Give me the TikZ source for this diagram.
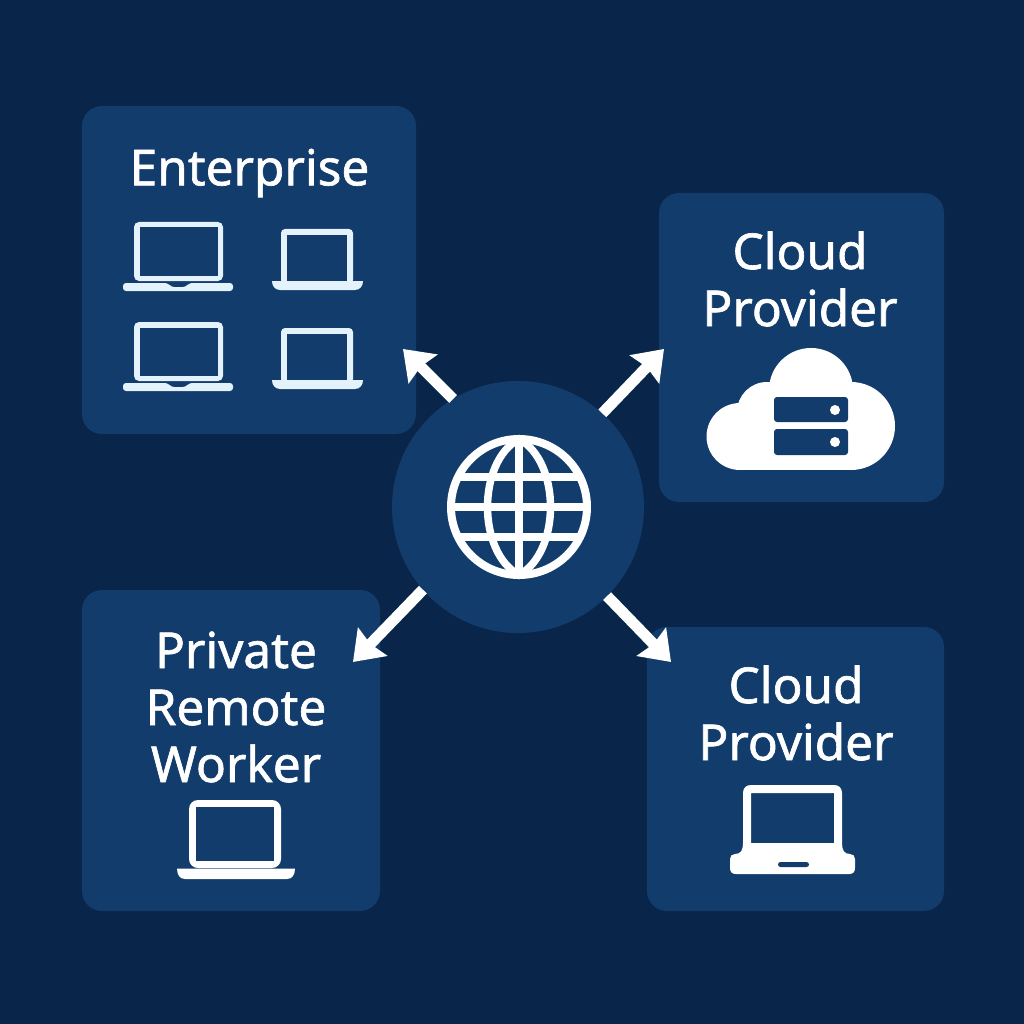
\documentclass[tikz,border=0pt]{standalone}
\usepackage{fontspec}
\setmainfont[RawFeature={embolden=1.3}]{Noto Sans}
\usetikzlibrary{arrows.meta}
\definecolor{bgc}{HTML}{09264A}
\definecolor{boxc}{HTML}{113C6C}
\definecolor{pale}{HTML}{E4F2FC}
\tikzset{
  panel/.style={fill=boxc,rounded corners=20pt,inner sep=0pt,outer sep=0pt},
  label/.style={text=white,font=\fontsize{49.5}{57}\selectfont,align=center,inner sep=0pt},
  link/.style={draw=white,line width=11pt,-{Stealth[length=28pt,width=40pt,inset=3pt]}},
  big/.pic={
    \fill[pale,rounded corners=5pt] (0,0) rectangle (89,59);
    \fill[boxc] (5.5,5.5) rectangle (83.5,53.5);
    \fill[pale,rounded corners=3pt] (-11,61) -- (34,61) -- (37,65) -- (52,65) -- (55,61) -- (99,61) -- (99,69) -- (-11,69) -- cycle;
  },
  small/.pic={
    \fill[pale,rounded corners=4pt] (0,55) -- (0,0) -- (72,0) -- (72,55) -- cycle;
    \fill[boxc] (6,6) rectangle (66,55);
    \fill[pale] (-9,52) -- (82,52) .. controls (82,57) and (79,61) .. (74,61) -- (-1,61) .. controls (-6,61) and (-9,57) .. (-9,52) -- cycle;
  }
}
\begin{document}
\begin{tikzpicture}[x=1pt,y=-1pt]
\fill[bgc] (0,0) rectangle (1024,1024);
\useasboundingbox (0,0) rectangle (1024,1024);

\node[panel,minimum width=334pt,minimum height=328pt] (ent) at (249,270) {};
\node[panel,minimum width=285pt,minimum height=309pt] (cloudA) at (801.5,347.5) {};
\node[panel,minimum width=298pt,minimum height=321pt] (priv) at (231,750.5) {};
\node[panel,minimum width=297pt,minimum height=284pt] (cloudB) at (795.5,769) {};

\node[label] (entT) at (249.5,173) {Enterprise};
\node[label] (cloudAT) at (800,279) {Cloud\\Provider};
\node[label] (privT) at (236,707) {Private\\Remote\\Worker};
\node[label] (cloudBT) at (796,713) {Cloud\\Provider};

% Enterprise laptops
\pic at (134,222) {big};
\pic at (134,322) {big};
\pic at (281,229) {small};
\pic at (281,328) {small};

% Cloud with server
\fill[white] (811,390) circle (42) (767,412) circle (30) (740,436.5) circle (33.5) (851,426) circle (44);
\fill[white] (740,405) rectangle (851,470);
\fill[boxc,rounded corners=3pt] (774,397) rectangle (848,422);
\fill[boxc,rounded corners=3pt] (774,429) rectangle (848,455);
\fill[white] (835,410) circle (5) (835,442) circle (5);

% Private worker laptop
\fill[white,rounded corners=9pt] (189,800) rectangle (281,868);
\fill[boxc] (196,807) rectangle (274,861);
\fill[white] (177,868.5) -- (295,868.5) .. controls (295,875) and (292,879) .. (287,879) -- (185,879) .. controls (180,879) and (177,875) .. (177,868.5) -- cycle;

% Second provider laptop
\fill[white,even odd rule]
  (751,785) -- (834,785) .. controls (839,785) and (842,788) .. (842,793) -- (842,843)
  .. controls (842,850) and (844,854) .. (850,854) .. controls (853,854) and (855,856) .. (855,859)
  -- (855,868) .. controls (855,872) and (853,874) .. (849,874) -- (736,874)
  .. controls (732,874) and (730,872) .. (730,868) -- (730,859) .. controls (730,856) and (732,854) .. (735,854)
  .. controls (741,854) and (743,850) .. (743,843) -- (743,793) .. controls (743,788) and (746,785) .. (751,785) -- cycle
  (751,793) rectangle (834,843);
\fill[boxc,rounded corners=2.5pt] (778,862) rectangle (809,867);

% Hub and connectors
\node[circle,fill=boxc,minimum size=252pt,inner sep=0pt,outer sep=0pt] (hub) at (518,507) {};
\coordinate (tipA) at (403,349);
\coordinate (tipB) at (664,349);
\coordinate (tipC) at (353,662);
\coordinate (tipD) at (671,662);
\draw[link] (hub.121) -- (tipA);
\draw[link] (hub.48) -- (tipB);
\draw[link] (hub.221) -- (tipC);
\draw[link] (hub.-45) -- (tipD);

% Globe
\begin{scope}[white,line width=7.5pt]
  \draw[line width=8pt] (519,507) circle (68);
  \draw (519,439) .. controls (477,462) and (477,552) .. (519,575) .. controls (561,552) and (561,462) .. (519,439) -- cycle;
  \draw (519,439) -- (519,575);
  \draw (457,477) -- (581,477);
  \draw (451,507) -- (587,507);
  \draw (457,537) -- (581,537);
\end{scope}
\end{tikzpicture}
\end{document}
